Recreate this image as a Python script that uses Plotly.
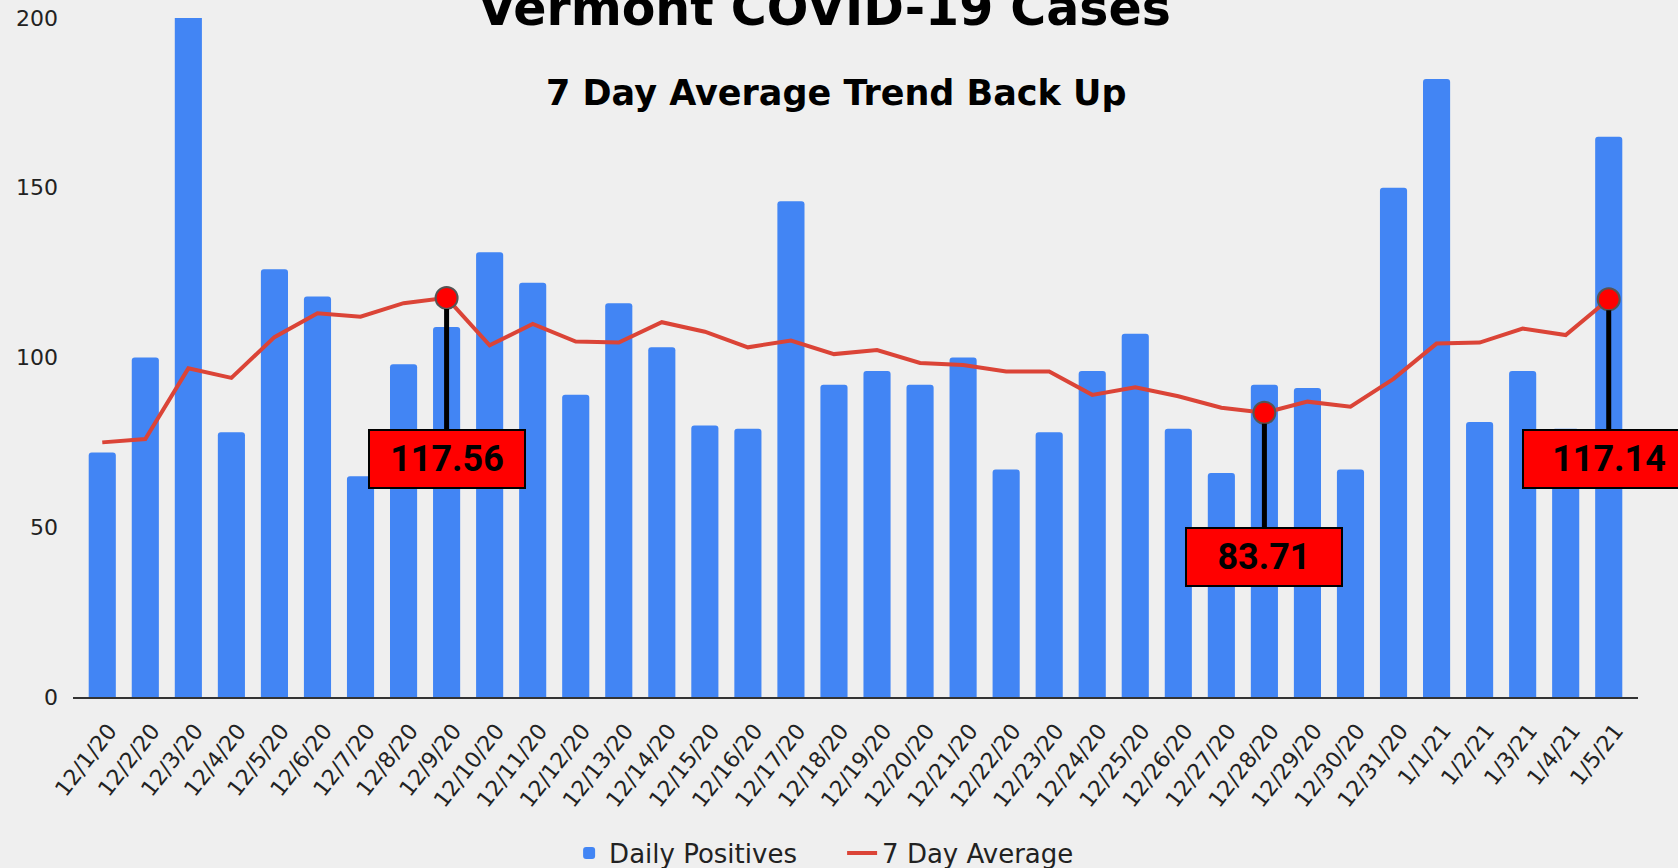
import plotly.graph_objects as go

dates = ["12/1/20", "12/2/20", "12/3/20", "12/4/20", "12/5/20", "12/6/20", "12/7/20",
         "12/8/20", "12/9/20", "12/10/20", "12/11/20", "12/12/20", "12/13/20", "12/14/20",
         "12/15/20", "12/16/20", "12/17/20", "12/18/20", "12/19/20", "12/20/20", "12/21/20",
         "12/22/20", "12/23/20", "12/24/20", "12/25/20", "12/26/20", "12/27/20", "12/28/20",
         "12/29/20", "12/30/20", "12/31/20", "1/1/21", "1/2/21", "1/3/21", "1/4/21", "1/5/21"]

daily_positives = [72, 100, 229, 78, 126, 118, 65, 98, 109, 131, 122, 89, 116, 103,
                   80, 79, 146, 92, 96, 92, 100, 67, 78, 96, 107, 79, 66, 92,
                   91, 67, 150, 182, 81, 96, 79, 165]

seven_day_avg = [75.0, 76.0, 96.8, 94.0, 106.0, 113.0, 112.0, 116.0, 117.56, 103.6, 109.9,
                 104.7, 104.4, 110.4, 107.6, 103.0, 105.0, 101.0, 102.2, 98.4, 97.8,
                 95.9, 95.9, 89.0, 91.2, 88.6, 85.2, 83.71, 87.0, 85.5, 93.7,
                 104.1, 104.4, 108.5, 106.6, 117.14]

highlight_dates = ["12/9/20", "12/28/20", "1/5/21"]
highlight_values = [117.56, 83.71, 117.14]
highlight_labels = ["117.56", "83.71", "117.14"]
label_box_y = [70.1, 41.1, 70.1]
label_box_w = [150, 150, 166]

BG = "#efefef"

fig = go.Figure()
fig.add_trace(go.Bar(
    x=dates, y=daily_positives, name="Daily Positives",
    marker=dict(color="#4285F4", cornerradius=3, line=dict(width=0)),
))
fig.add_trace(go.Scatter(
    x=dates, y=seven_day_avg, name="7 Day Average", mode="lines",
    line=dict(color="#DB4437", width=4),
))
fig.add_trace(go.Scatter(
    x=highlight_dates, y=highlight_values, mode="markers", showlegend=False,
    marker=dict(size=22, color="#FF0000", line=dict(color="#555555", width=2)),
    hoverinfo="skip",
))

annotations = []
for d, v, lab, by, bw in zip(highlight_dates, highlight_values, highlight_labels,
                             label_box_y, label_box_w):
    annotations.append(dict(
        x=d, y=v, xref="x", yref="y",
        ax=d, ay=by, axref="x", ayref="y",
        text="<b>" + lab + "</b>",
        showarrow=True, arrowhead=0, arrowwidth=5, arrowcolor="black", standoff=11,
        bgcolor="#FF0000", bordercolor="black", borderwidth=2, borderpad=2,
        width=bw, height=52,
        font=dict(family="Roboto", size=36, color="black"),
    ))

annotations.append(dict(
    text="<b>Vermont COVID-19 Cases</b>", xref="paper", yref="paper",
    x=0.48, y=1.0133, xanchor="center", yanchor="middle", showarrow=False,
    font=dict(family="DejaVu Sans", size=49, color="black"),
))
annotations.append(dict(
    text="<b>7 Day Average Trend Back Up</b>", xref="paper", yref="paper",
    x=0.488, y=0.8895, xanchor="center", yanchor="middle", showarrow=False,
    font=dict(family="DejaVu Sans", size=35, color="black"),
))

fig.update_layout(
    width=1678, height=868,
    paper_bgcolor=BG, plot_bgcolor=BG,
    margin=dict(l=73, r=40, t=18, b=171, autoexpand=False),
    bargap=0.37,
    showlegend=True,
    legend=dict(
        orientation="h", x=0.317, xanchor="left",
        yref="container", y=0.0173, yanchor="middle",
        entrywidth=228, entrywidthmode="pixels",
        font=dict(family="DejaVu Sans", size=26, color="#222222"),
        bgcolor="rgba(0,0,0,0)",
    ),
    annotations=annotations,
    xaxis=dict(
        type="category", range=[-0.68, 35.68],
        showline=True, linecolor="#333333", linewidth=2,
        showgrid=False, zeroline=False, ticks="",
        tickangle=-52, ticklabelstandoff=10, ticklabelshift=7,
        tickfont=dict(family="DejaVu Sans", size=22, color="#222222"),
    ),
    yaxis=dict(
        range=[0, 200], tickvals=[0, 50, 100, 150, 200],
        showgrid=False, zeroline=False, showline=False, ticks="",
        ticklabelstandoff=14,
        tickfont=dict(family="DejaVu Sans", size=22, color="#222222"),
    ),
)

fig.write_html(
    "out.html",
    config={"displayModeBar": False},
    post_script="document.body.style.margin='0';document.body.style.overflow='hidden';",
)
